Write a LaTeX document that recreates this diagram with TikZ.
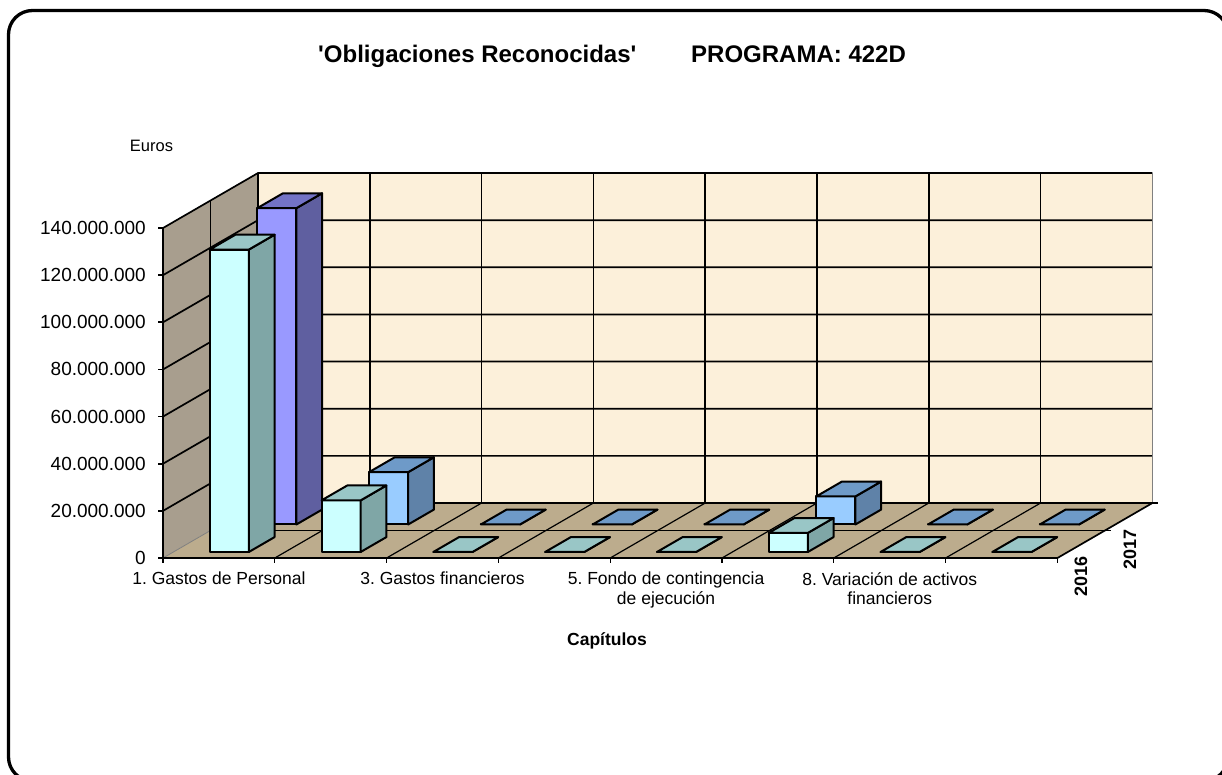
\documentclass[tikz,border=0pt]{standalone}
\usepackage{fontspec}
\setmainfont{Liberation Sans}
\frenchspacing
\definecolor{wallback}{HTML}{FCF0DA}
\definecolor{wallleft}{HTML}{A89E8E}
\definecolor{floorc}{HTML}{BCAC8D}
\definecolor{c16f}{HTML}{CCFFFF}
\definecolor{c16s}{HTML}{7FA6A6}
\definecolor{c16t}{HTML}{99C6C6}
\definecolor{c17f}{HTML}{9999FF}
\definecolor{c17s}{HTML}{5F5FA0}
\definecolor{c17t}{HTML}{7373C6}
\definecolor{c17bf}{HTML}{99CCFF}
\definecolor{c17bs}{HTML}{5F82A8}
\definecolor{c17bt}{HTML}{6E9AC8}
\newcommand{\chartbar}[6]{%
  \filldraw[barline,fill=#4] (#1+0.325,0,#2) rectangle (#1+0.675,#3,#2);
  \filldraw[barline,fill=#5] (#1+0.675,0,#2) -- (#1+0.675,0,#2+0.27) -- (#1+0.675,#3,#2+0.27) -- (#1+0.675,#3,#2) -- cycle;
  \filldraw[barline,fill=#6] (#1+0.325,#3,#2) -- (#1+0.675,#3,#2) -- (#1+0.675,#3,#2+0.27) -- (#1+0.325,#3,#2+0.27) -- cycle;
}
\begin{document}
\begin{tikzpicture}
    [
    x=1pt,y=-1pt,
    grid/.style={line width=1.7pt},
    floorgrid/.style={line width=1.2pt},
    barline/.style={line width=2pt,line join=round},
    ticklab/.style={font=\fontsize{19}{22}\selectfont,inner sep=0pt},
    catlab/.style={font=\fontsize{17.5}{19.5}\selectfont,align=center,inner sep=0pt},
    yearlab/.style={font=\fontsize{18}{20}\selectfont\bfseries,inner sep=0pt,rotate=90}
    ]
    \useasboundingbox (0,0) rectangle (1222,774);
    \draw[line width=3.3pt,rounded corners=24pt] (8.5,10.5) rectangle (1228,781);
    \node (title) at (318,62) [anchor=base west,inner sep=0pt,font=\fontsize{24}{28}\selectfont\bfseries] {\textquotesingle Obligaciones Reconocidas\textquotesingle};
    \node (prog) at (691,62) [anchor=base west,inner sep=0pt,font=\fontsize{24}{28}\selectfont\bfseries] {PROGRAMA: 422D};
    \node (euros) at (151.5,151) [anchor=base,inner sep=0pt,font=\fontsize{16.5}{19}\selectfont] {Euros};
    \node (capitulos) at (607,645) [anchor=base,inner sep=0pt,font=\fontsize{17.5}{20}\selectfont\bfseries] {Capítulos};
    \node (y16) at (1081,576) [yearlab] {2016};
    \node (y17) at (1130,549) [yearlab] {2017};
    \begin{scope}[shift={(163,558)},x={(111.8pt,0pt)},y={(0pt,2.357pt)},z={(95pt,55pt)}]
    \fill[wallback] (0,0,1) rectangle (8,140,1);
    \fill[wallleft] (0,0,0) -- (0,0,1) -- (0,140,1) -- (0,140,0) -- cycle;
    \fill[floorc] (0,0,0) -- (8,0,0) -- (8,0,1) -- (0,0,1) -- cycle;
    \foreach \v in {20,40,...,140}
      \draw[grid] (0,\v,0) -- (0,\v,1) -- (8,\v,1);
    \foreach \s in {0,...,7}
      \draw[grid] (\s,0,1) -- (\s,140,1);
    \draw[gray,line width=1pt] (8,0,1) -- (8,140,1);
    \foreach \s in {1,...,7}
      \draw[floorgrid] (\s,0,0) -- (\s,0,1);
    \draw[floorgrid] (0,0,0.5) -- (8,0,0.5);
    \draw[grid] (0,0,0.5) -- (0,140,0.5);
    \draw[gray,line width=0.8pt] (0,0,0) -- (0,0,1);
    \draw[floorgrid] (0,0,1) -- (8,0,1);
    \draw[grid] (0,140,0) -- (0,0,0) -- (8,0,0) -- (8,0,1);
    \foreach \v in {0,20,...,140}
      \draw[grid] (0,\v,0) -- ++(-5pt,0);
    \foreach \s in {0,...,8}
      \draw[floorgrid] (\s,0,0) -- ++(0,-5pt);
    \foreach \d in {0.5,1}
      \draw[floorgrid] (8,0,\d) -- ++(6pt,0);
    \foreach \v/\lab in {0/0,20/20.000.000,40/40.000.000,60/60.000.000,80/80.000.000,100/100.000.000,120/120.000.000,140/140.000.000}
      \node (t\v) [ticklab,anchor=east] at ([xshift=-17pt]0,\v,0) {\lab};
    \foreach \s/\lab in {0/{1. Gastos de Personal},2/{3. Gastos financieros},4/{5. Fondo de contingencia\\de ejecución},6/{8. Variación de activos\\financieros}}
      \node (c\s) [catlab,anchor=north] at ([yshift=-14pt]\s+0.5,0,0) {\lab};
    \foreach \s/\v/\colf/\cols/\colt in {0/134.2/c17f/c17s/c17t,1/22.2/c17bf/c17bs/c17bt,2/0/c17bf/c17bs/c17bt,3/0/c17bf/c17bs/c17bt,4/0/c17bf/c17bs/c17bt,5/11.9/c17bf/c17bs/c17bt,6/0/c17bf/c17bs/c17bt,7/0/c17bf/c17bs/c17bt}
      {\chartbar{\s}{0.61}{\v}{\colf}{\cols}{\colt}}
    \foreach \s/\v in {0/128.3,1/21.9,2/0,3/0,4/0,5/8.1,6/0,7/0}
      {\chartbar{\s}{0.11}{\v}{c16f}{c16s}{c16t}}
    \end{scope}
  \end{tikzpicture}
\end{document}
